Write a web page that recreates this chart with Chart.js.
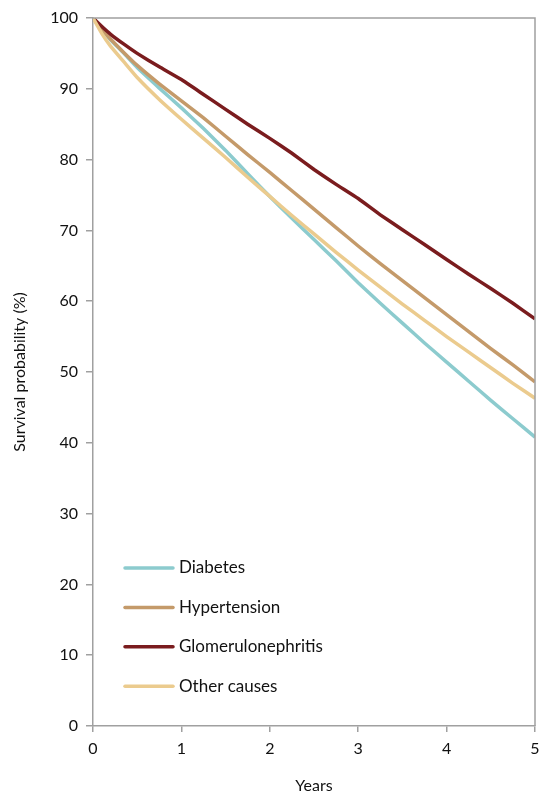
<!DOCTYPE html>
<html>
<head>
<meta charset="utf-8">
<script src="https://cdn.jsdelivr.net/npm/chart.js@4"></script>
<style>
  html, body { margin: 0; padding: 0; background: #fff; }
  #wrap { width: 540px; height: 799px; }
</style>
</head>
<body>
<div id="wrap"><canvas id="surv"></canvas></div>
<script>
// years since start
const years = [0, 0.1, 0.2, 0.35, 0.5, 0.75, 1, 1.25, 1.5, 1.75, 2, 2.25, 2.5, 2.75, 3, 3.25, 3.5, 3.75, 4, 4.25, 4.5, 4.75, 5];
// survival (%)
const diabetes = [100, 98.4, 96.9, 95.0, 93.0, 90.1, 87.3, 84.4, 81.3, 78.0, 74.8, 71.7, 68.7, 65.7, 62.6, 59.7, 56.9, 54.1, 51.4, 48.7, 46.0, 43.4, 40.8];
const hypertension = [100, 98.4, 97.0, 95.1, 93.3, 90.7, 88.3, 85.9, 83.3, 80.7, 78.2, 75.6, 73.0, 70.4, 67.8, 65.3, 62.9, 60.5, 58.1, 55.7, 53.3, 51.0, 48.6];
const glomerulo = [100, 98.8, 97.7, 96.3, 95.0, 93.1, 91.3, 89.2, 87.1, 85.0, 83.0, 80.9, 78.6, 76.5, 74.5, 72.2, 70.1, 68.0, 65.9, 63.8, 61.8, 59.7, 57.5];
const otherCauses = [100, 97.8, 96.0, 93.8, 91.6, 88.5, 85.7, 83.0, 80.3, 77.5, 74.8, 72.1, 69.5, 66.9, 64.4, 62.0, 59.6, 57.3, 55.0, 52.8, 50.6, 48.4, 46.3];

const etiquetas = ["Diabetes", "Hypertension", "Glomerulonephritis", "Other causes"];
const colores = ["#8CCBCE", "#C49A6A", "#7A1C1E", "#EBCB8E"];
const series = [diabetes, hypertension, glomerulo, otherCauses];
const orden = [3, 2, 1, 0]; // later series drawn on top, like the original

const FONT = "Lato, 'Open Sans', sans-serif";
const AXIS = "#A0A0A0";

// frame around the plot area
const marco = {
  id: "marco",
  afterDatasetsDraw(chart) {
    const { ctx, chartArea: a } = chart;
    ctx.save();
    ctx.strokeStyle = AXIS;
    ctx.lineWidth = 1.5;
    ctx.beginPath();
    ctx.moveTo(a.left, a.top);
    ctx.lineTo(a.right, a.top);
    ctx.lineTo(a.right, a.bottom);
    ctx.stroke();
    ctx.restore();
  }
};

// legend inside the plot, bottom left
const leyenda = {
  id: "leyenda",
  afterDraw(chart) {
    const { ctx } = chart;
    ctx.save();
    ctx.font = "17px " + FONT;
    ctx.textBaseline = "middle";
    chart.data.datasets.forEach((ds, i) => {
      const y = 568 + i * 39.4;
      ctx.strokeStyle = ds.borderColor;
      ctx.lineWidth = 3.5;
      ctx.lineCap = "round";
      ctx.beginPath();
      ctx.moveTo(125, y);
      ctx.lineTo(173, y);
      ctx.stroke();
      ctx.fillStyle = "#111";
      ctx.fillText(ds.label, 179, y);
    });
    ctx.restore();
  }
};

new Chart(document.getElementById("surv"), {
  type: "line",
  data: {
    datasets: series.map((s, i) => ({
      label: etiquetas[i],
      data: years.map((x, j) => ({ x: x, y: s[j] })),
      borderColor: colores[i],
      borderWidth: 3.5,
      pointRadius: 0,
      tension: 0.1,
      fill: false,
      order: orden[i]
    }))
  },
  options: {
    responsive: true,
    maintainAspectRatio: false,
    animation: false,
    layout: { padding: { top: 18, right: 5, left: 0, bottom: 0 } },
    plugins: { legend: { display: false }, tooltip: { enabled: false } },
    scales: {
      x: {
        type: "linear",
        min: 0,
        max: 5,
        ticks: { stepSize: 1, color: "#111", font: { family: FONT, size: 16 }, padding: 7 },
        grid: { drawOnChartArea: false, drawTicks: true, tickLength: 6, color: AXIS, lineWidth: 1.5 },
        border: { color: AXIS, width: 1.5 },
        title: { display: true, text: "Years", color: "#111", font: { family: FONT, size: 16 }, padding: { top: 10 } },
        afterFit(s) { s.height = 73; s.paddingRight = 0; }
      },
      y: {
        min: 0,
        max: 100,
        ticks: { stepSize: 10, color: "#111", font: { family: FONT, size: 16 }, padding: 8 },
        grid: { drawOnChartArea: false, drawTicks: true, tickLength: 7, color: AXIS, lineWidth: 1.5 },
        border: { color: AXIS, width: 1.5 },
        title: { display: true, text: "Survival probability (%)", color: "#111", font: { family: FONT, size: 16 }, padding: { top: 10, bottom: 0 } },
        afterFit(s) { s.width = 93; }
      }
    }
  },
  plugins: [marco, leyenda]
});
</script>
</body>
</html>
